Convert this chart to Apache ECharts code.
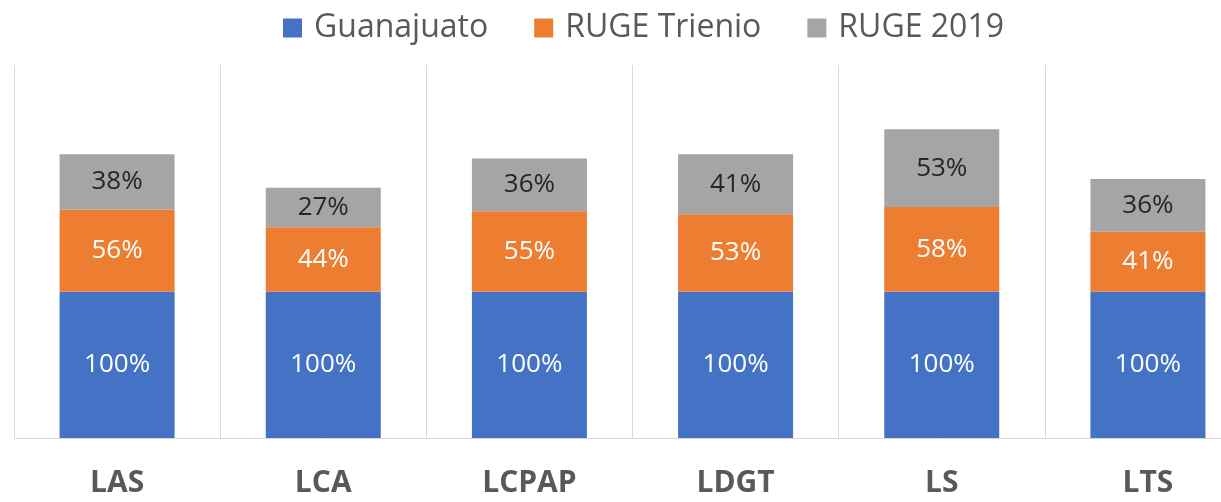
<!DOCTYPE html>
<html>
<head>
<meta charset="utf-8">
<script src="https://cdn.jsdelivr.net/npm/echarts@6/dist/echarts.min.js"></script>
<style>
  html, body { margin: 0; padding: 0; background: #fff; overflow: hidden; }
  /* the plot runs past the right edge in the reference, so the canvas is wider than the page */
  #chart { width: 1252px; height: 502px; }
</style>
</head>
<body>
<div id="chart"></div>
<script>
const categories = ['LAS', 'LCA', 'LCPAP', 'LDGT', 'LS', 'LTS']
const guanajuato = [100, 100, 100, 100, 100, 100]
const rugeTrienio = [56, 44, 55, 53, 58, 41]
const ruge2019 = [38, 27, 36, 41, 53, 36]

const chart = echarts.init(document.getElementById('chart'))

const font = '"Open Sans", "Noto Sans", sans-serif'

function barSeries(name, data, color, labelColor) {
    return {
        name: name,
        type: 'bar',
        stack: 'total',
        data: data,
        barWidth: 115,
        itemStyle: { color: color },
        label: {
            show: true,
            position: 'inside',
            formatter: '{c}%',
            color: labelColor,
            fontFamily: font,
            fontSize: 26
        }
    }
}

chart.setOption({
    animation: false,
    legend: {
        left: 278,
        top: 7,
        itemWidth: 19,
        itemHeight: 19,
        itemGap: 46,
        icon: 'rect',
        textStyle: {
            color: '#595959',
            fontFamily: font,
            fontSize: 32,
            padding: [0, 0, 0, 7]
        },
        data: ['Guanajuato', 'RUGE Trienio', 'RUGE 2019']
    },
    grid: {
        left: 14,
        top: 65,
        right: 1,
        bottom: 64
    },
    xAxis: {
        type: 'category',
        data: categories,
        axisLine: { lineStyle: { color: '#d9d9d9' } },
        axisTick: { show: false },
        splitLine: { show: true, interval: 0, lineStyle: { color: '#d9d9d9', width: 1 } },
        axisLabel: {
            color: '#595959',
            fontFamily: font,
            fontSize: 30,
            fontWeight: 'bold',
            margin: 30
        }
    },
    yAxis: {
        type: 'value',
        min: 0,
        max: 255,
        show: false,
        splitLine: { show: false }
    },
    series: [
        barSeries('Guanajuato', guanajuato, '#4472C4', '#ffffff'),
        barSeries('RUGE Trienio', rugeTrienio, '#ED7D31', '#ffffff'),
        barSeries('RUGE 2019', ruge2019, '#A5A5A5', '#262626')
    ]
})
</script>
</body>
</html>
